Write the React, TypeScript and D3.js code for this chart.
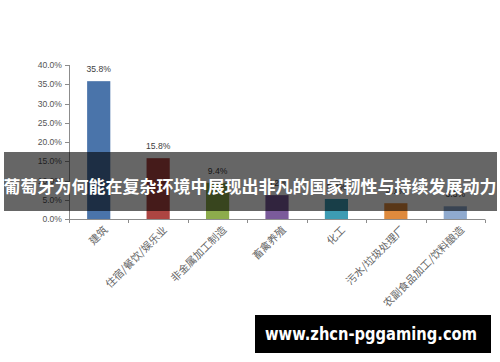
import React from "react";
import * as d3 from "d3";

const categories = ["建筑", "住宿/餐饮/娱乐业", "非金属加工制造", "畜禽养殖", "化工", "污水/垃圾处理厂", "农副食品加工/饮料酿造"];
const values = [35.8, 15.8, 9.4, 6.2, 5.2, 4.1, 3.3];
const colors = ["#4a74aa", "#ad4542", "#8dac4c", "#7b5b9b", "#3d9cb4", "#df8a3d", "#8faacf"];
const yTicks = [0, 5, 10, 15, 20, 25, 30, 35, 40];
const bannerTitle = "葡萄牙为何能在复杂环境中展现出非凡的国家韧性与持续发展动力";
const siteText = "www.zhcn-pggaming.com";

export default function App() {
  const W = 500, H = 362;
  const x = d3.scaleBand<string>().domain(categories).range([69, 485]).paddingInner(0.61).paddingOuter(0.305);
  const y = d3.scaleLinear().domain([0, 40]).range([219, 65]);
  const step = x.step();
  const fmt = (v: number) => v.toFixed(1) + "%";
  const axisColor = "#8c8c8c";
  const font = "'Liberation Sans', Arial, sans-serif";
  return (
    <svg width={W} height={H} style={{ position: "absolute", left: 0, top: 0, background: "#fff" }}>
      <rect x={0} y={0} width={W} height={H} fill="#fff" />
      {/* y axis */}
      <line x1={69.5} x2={69.5} y1={y(40)} y2={y(0)} stroke={axisColor} />
      {yTicks.map((t) => (
        <g key={t}>
          <line x1={65} x2={69.5} y1={Math.round(y(t)) + 0.5} y2={Math.round(y(t)) + 0.5} stroke={axisColor} />
          <text x={62} y={y(t)} dy="0.35em" textAnchor="end" fontSize={8.6} fill="#555" fontFamily={font}>
            {fmt(t)}
          </text>
        </g>
      ))}
      {/* x axis */}
      <line x1={69} x2={485} y1={219.5} y2={219.5} stroke={axisColor} />
      {d3.range(categories.length + 1).map((i) => {
        const xx = Math.round(69 + i * step) + 0.5;
        return <line key={i} x1={xx} x2={xx} y1={219.5} y2={223} stroke={axisColor} />;
      })}
      {/* bars */}
      {categories.map((c, i) => (
        <rect key={c} x={x(c)} y={y(values[i])} width={x.bandwidth()} height={y(0) - y(values[i])} fill={colors[i]} />
      ))}
      {categories.map((c, i) => (
        <text key={c} x={(x(c) as number) + x.bandwidth() / 2} y={y(values[i]) - 9} textAnchor="middle" fontSize={8.6} fill="#404040" fontFamily={font}>
          {fmt(values[i])}
        </text>
      ))}
      {/* x labels */}
      {categories.map((c) => {
        const cx = (x(c) as number) + x.bandwidth() / 2;
        return (
          <text key={c} transform={`translate(${cx + 7},${228}) rotate(-45)`} textAnchor="end" dy="0.35em" fontSize={10.5} fill="#666" fontFamily="'Noto Sans CJK SC', sans-serif">
            {c}
          </text>
        );
      })}
      {/* banner */}
      <rect x={4} y={152} width={493} height={59} fill="#000" fillOpacity={0.6} />
      <text x={250} y={185} textAnchor="middle" dominantBaseline="central" fontSize={17} fontWeight="bold" fill="#fff" fontFamily="'Noto Sans CJK SC', sans-serif">
        {bannerTitle}
      </text>
      {/* site box */}
      <rect x={255} y={315} width={236} height={38} fill="#000" />
      <text x={265} y={340} fontSize={18} fontWeight="bold" fill="#fff" fontFamily="'DejaVu Sans', Verdana, sans-serif" textLength={212} lengthAdjust="spacingAndGlyphs">
        {siteText}
      </text>
    </svg>
  );
}
